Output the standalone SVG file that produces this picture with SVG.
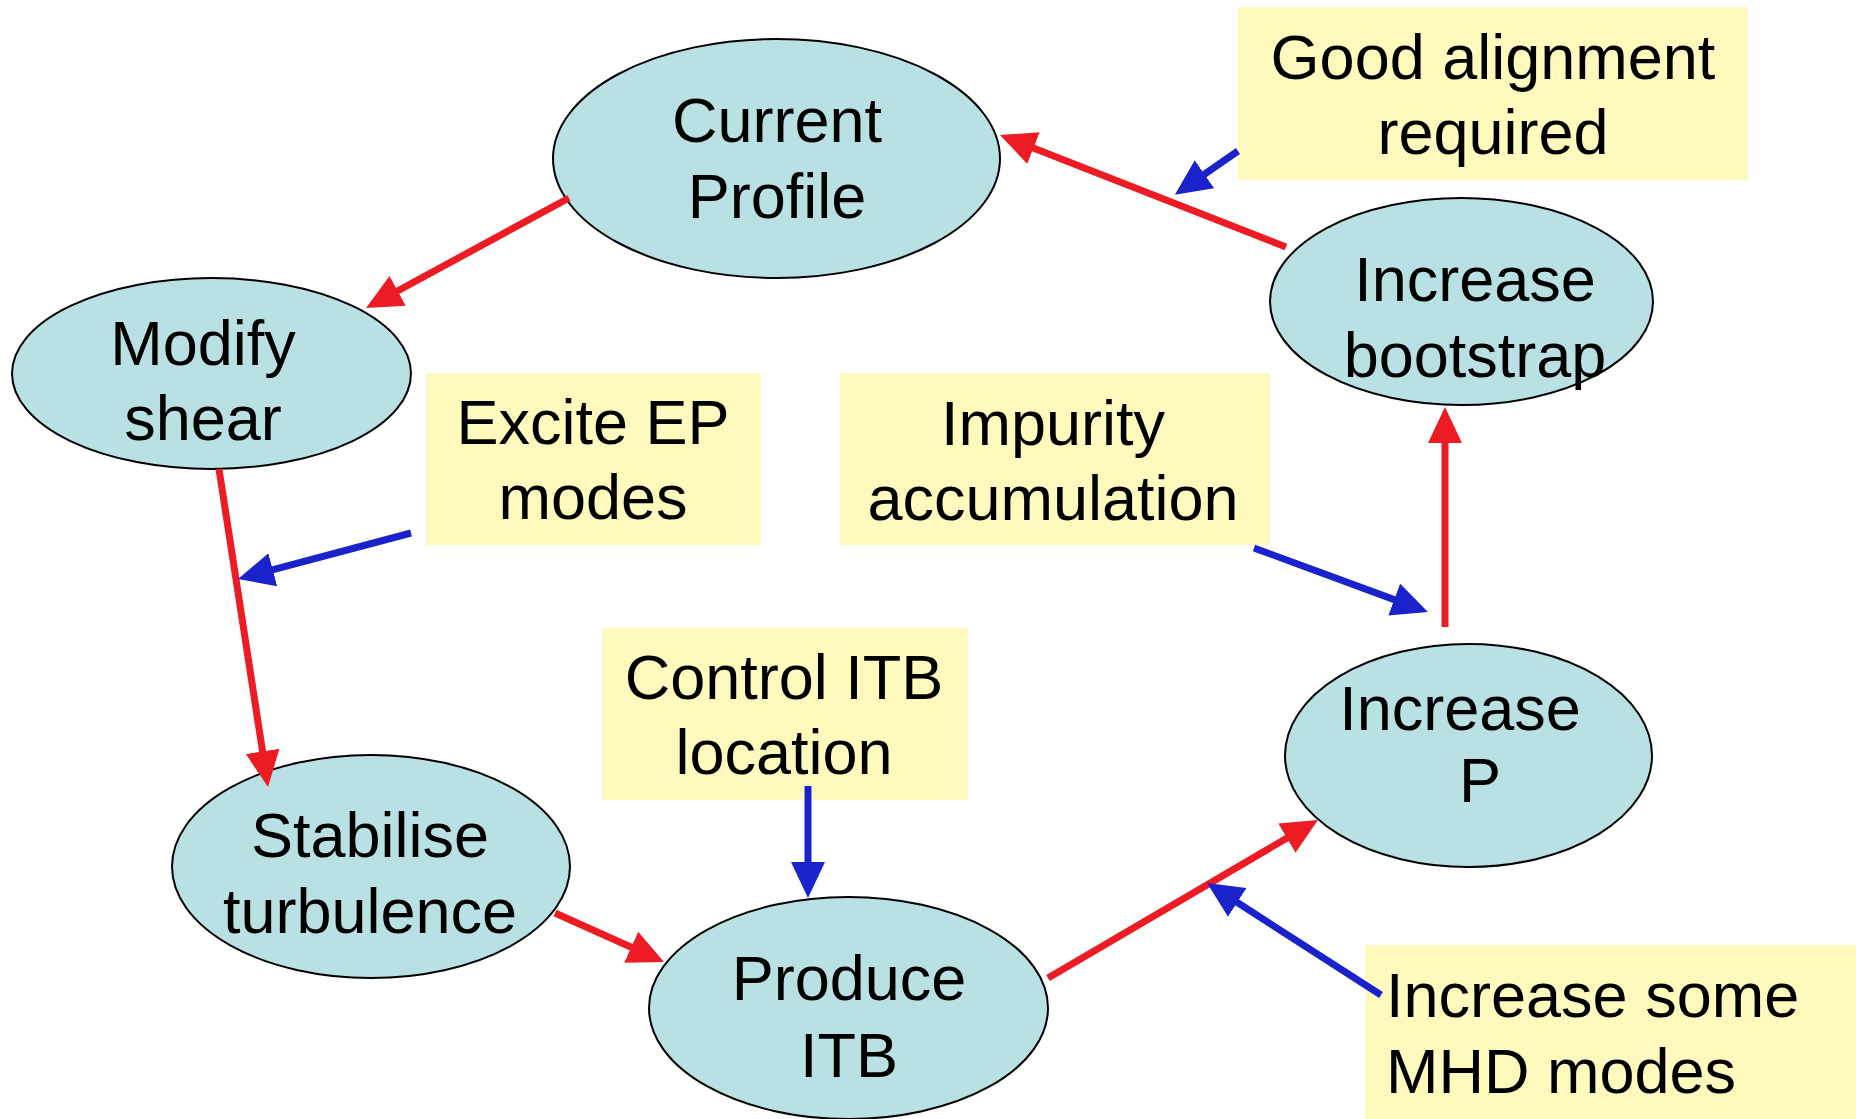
<svg xmlns="http://www.w3.org/2000/svg" width="1856" height="1119" viewBox="0 0 1856 1119">
  <style>
    .node { fill: #B9E0E3; stroke: #000; stroke-width: 2; }
    .note { fill: #FEF9BD; }
    text { font-family: "Liberation Sans", Arial, sans-serif; font-size: 63px; fill: #000; }
    .c { text-anchor: middle; }
    .red { stroke: #ED1C24; stroke-width: 7; fill: none; marker-end: url(#headRed); }
    .blue { stroke: #1A22CC; stroke-width: 7; fill: none; marker-end: url(#headBlue); }
  </style>
  <defs>
    <marker id="headRed" viewBox="0 0 36 34" refX="16" refY="17" markerWidth="36" markerHeight="34" markerUnits="userSpaceOnUse" orient="auto">
      <path d="M0,0 L36,17 L0,34 z" fill="#ED1C24"/>
    </marker>
    <marker id="headBlue" viewBox="0 0 36 34" refX="16" refY="17" markerWidth="36" markerHeight="34" markerUnits="userSpaceOnUse" orient="auto">
      <path d="M0,0 L36,17 L0,34 z" fill="#1A22CC"/>
    </marker>
  </defs>
  <rect width="1856" height="1119" fill="#fff"/>

  <!-- process steps -->
  <g id="current-profile">
    <ellipse class="node" cx="776.5" cy="158.5" rx="223.5" ry="119.5"/>
    <text class="c" x="777" y="142">Current</text>
    <text class="c" x="777" y="218">Profile</text>
  </g>
  <g id="modify-shear">
    <ellipse class="node" cx="211.5" cy="373.5" rx="199.5" ry="95.5"/>
    <text class="c" x="203" y="365">Modify</text>
    <text class="c" x="203" y="440">shear</text>
  </g>
  <g id="increase-bootstrap">
    <ellipse class="node" cx="1461.5" cy="301.5" rx="191.5" ry="103.5"/>
    <text class="c" x="1475" y="301">Increase</text>
    <text class="c" x="1475" y="377">bootstrap</text>
  </g>
  <g id="increase-p">
    <ellipse class="node" cx="1468.5" cy="755.5" rx="183.5" ry="111.5"/>
    <text class="c" x="1460" y="730">Increase</text>
    <text class="c" x="1480" y="802">P</text>
  </g>
  <g id="stabilise-turbulence">
    <ellipse class="node" cx="371" cy="866.5" rx="199" ry="111.5"/>
    <text class="c" x="370" y="857">Stabilise</text>
    <text class="c" x="370" y="933">turbulence</text>
  </g>
  <g id="produce-itb">
    <ellipse class="node" cx="848.5" cy="1008" rx="199.5" ry="111"/>
    <text class="c" x="849" y="1000">Produce</text>
    <text class="c" x="849" y="1077">ITB</text>
  </g>

  <!-- side notes -->
  <g id="good-alignment">
    <rect class="note" x="1238" y="7" width="510" height="173"/>
    <text class="c" x="1493" y="79">Good alignment</text>
    <text class="c" x="1493" y="154">required</text>
  </g>
  <g id="excite-ep">
    <rect class="note" x="426" y="373" width="335" height="172"/>
    <text class="c" x="593" y="444">Excite EP</text>
    <text class="c" x="593" y="519">modes</text>
  </g>
  <g id="impurity">
    <rect class="note" x="840" y="373" width="430" height="172"/>
    <text class="c" x="1053" y="445">Impurity</text>
    <text class="c" x="1053" y="520">accumulation</text>
  </g>
  <g id="control-itb">
    <rect class="note" x="602" y="628" width="366" height="172"/>
    <text class="c" x="784" y="699">Control ITB</text>
    <text class="c" x="784" y="774">location</text>
  </g>
  <g id="mhd-modes">
    <rect class="note" x="1365" y="945" width="491" height="174"/>
    <text x="1386" y="1017">Increase some</text>
    <text x="1386" y="1093">MHD modes</text>
  </g>

  <!-- connectors -->
  <g id="connectors">
    <line class="red" x1="569" y1="198" x2="383.6" y2="298.5"/>
    <line class="red" x1="1286" y1="247" x2="1018.6" y2="142.3"/>
    <line class="red" x1="219" y1="469" x2="265" y2="767.2"/>
    <line class="red" x1="555" y1="913" x2="645.8" y2="953.8"/>
    <line class="red" x1="1048" y1="978" x2="1300.7" y2="830.1"/>
    <line class="red" x1="1445" y1="627" x2="1445" y2="427"/>
    <line class="blue" x1="1238" y1="151" x2="1191.3" y2="183.4"/>
    <line class="blue" x1="411" y1="533" x2="257.3" y2="573.9"/>
    <line class="blue" x1="808" y1="786" x2="808" y2="878"/>
    <line class="blue" x1="1381" y1="995" x2="1223.8" y2="893.8"/>
    <line class="blue" x1="1254" y1="548" x2="1409.2" y2="605.1"/>
  </g>
</svg>
